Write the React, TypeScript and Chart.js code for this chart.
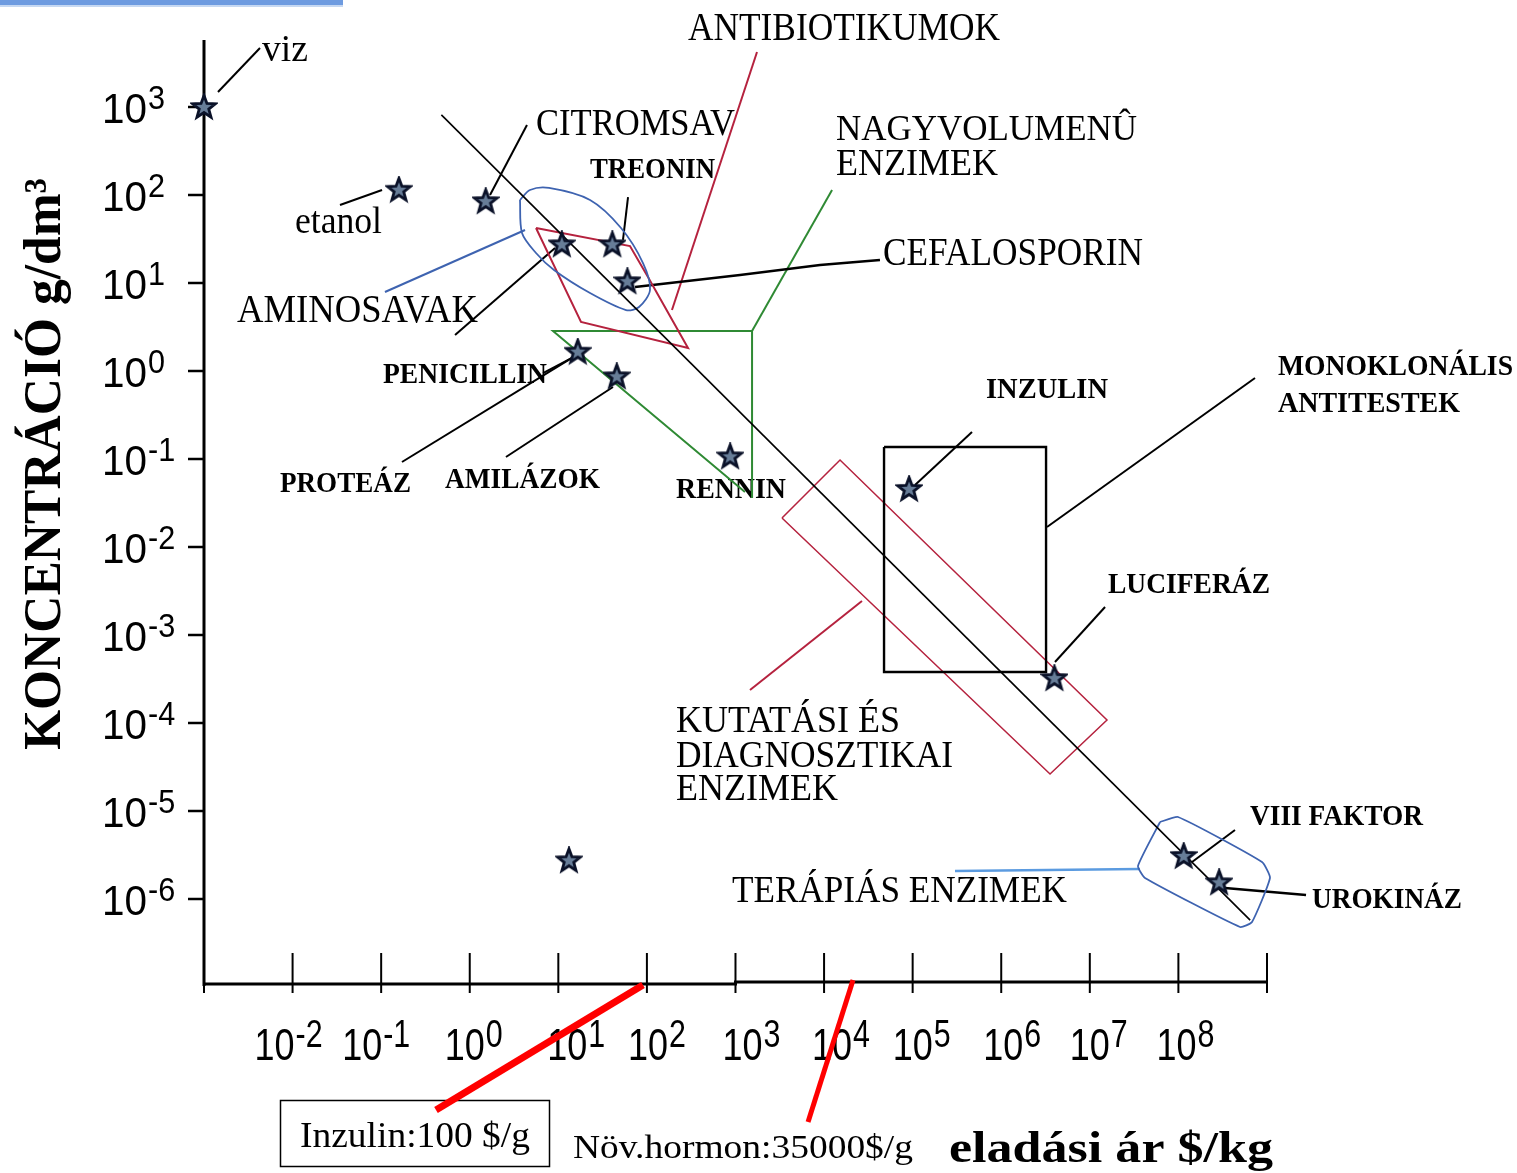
import React, { useEffect, useRef } from "react";
import { Chart, registerables } from "chart.js";

Chart.register(...registerables);

// ---------- DATA (all values are log10 exponents) ----------
// axis ticks
const priceTickExps = [-3, -2, -1, 0, 1, 2, 3, 4, 5, 6, 7, 8, 9];
const priceLabelExps = [-2, -1, 0, 1, 2, 3, 4, 5, 6, 7, 8];
const concTickExps = [3, 2, 1, 0, -1, -2, -3, -4, -5, -6];

// products (stars): log10 price ($/kg) and log10 concentration (g/dm3)
const productNames = ["viz", "etanol", "citromsav", "aminosav", "treonin", "cefalosporin", "penicillin", "amilázok", "rennin", "inzulin", "luciferáz", "VIII faktor", "urokináz", "?"];
const productPrice = [-3, -0.8, 0.18, 1.04, 1.61, 1.78, 1.22, 1.66, 2.94, 4.96, 6.6, 8.06, 8.46, 1.12];
const productConc = [3, 2.06, 1.93, 1.44, 1.44, 1.02, 0.22, -0.06, -0.97, -1.34, -3.49, -5.51, -5.81, -5.56];

// trend line
const trendPrice = [-0.32, 8.81];
const trendConc = [2.91, -6.24];

// group outlines
const aminoGroupPrice = [0.567, 0.68, 0.895, 1.358, 1.708, 1.956, 2.035, 1.911, 1.764, 1.358, 0.951, 0.748, 0.59, 0.567];
const aminoGroupConc = [1.943, 2.057, 2.08, 1.943, 1.625, 1.227, 0.92, 0.727, 0.693, 0.886, 1.148, 1.341, 1.568, 1.943];
const antibioticGroupPrice = [0.748, 1.809, 2.012, 2.464, 1.256, 0.748];
const antibioticGroupConc = [1.625, 1.42, 1.068, 0.261, 0.557, 1.625];
const bulkEnzymePrice = [3.107, 0.94, 3.187, 3.187];
const bulkEnzymeConc = [-1.375, 0.455, 0.455, -1.443];
const monoclonalPrice = [4.677, 6.506, 6.506, 4.677, 4.677];
const monoclonalConc = [-0.864, -0.864, -3.42, -3.42, -0.864];
const researchPrice = [3.525, 4.18, 7.194, 6.551, 3.525];
const researchConc = [-1.67, -1.011, -3.966, -4.58, -1.67];
const therapeuticPrice = [7.793, 7.996, 8.944, 9.034, 8.831, 8.696, 7.623, 7.544, 7.793];
const therapeuticConc = [-5.125, -5.068, -5.58, -5.761, -6.261, -6.318, -5.761, -5.625, -5.125];

// black leader lines
const leadVizPrice = [-2.842, -2.368];
const leadVizConc = [3.17, 3.67];
const leadEtanolPrice = [-1.465, -0.99];
const leadEtanolConc = [1.886, 2.057];
const leadCitromPrice = [0.229, 0.646];
const leadCitromConc = [2.0, 2.795];
const leadTreoninPrice = [1.787, 1.73];
const leadTreoninConc = [1.977, 1.489];
const leadCefaloPrice = [1.866, 3.051, 3.954, 4.631];
const leadCefaloConc = [0.955, 1.091, 1.205, 1.261];
const leadAminoPrice = [-0.166, 0.963];
const leadAminoConc = [0.409, 1.398];
const leadPenicPrice = [0.827, 1.154];
const leadPenicConc = [-0.023, 0.148];
const leadProteazPrice = [-0.765, 1.154];
const leadProteazConc = [-1.034, 0.148];
const leadAmilazPrice = [0.409, 1.617];
const leadAmilazConc = [-0.977, -0.182];
const leadInzulinPrice = [5.027, 5.67];
const leadInzulinConc = [-1.295, -0.693];
const leadMonoPrice = [6.517, 8.865];
const leadMonoConc = [-1.773, -0.08];
const leadLuciPrice = [6.607, 7.172];
const leadLuciConc = [-3.307, -2.682];
const leadF8Price = [8.154, 8.639];
const leadF8Conc = [-5.58, -5.216];
const leadUroPrice = [8.526, 9.441];
const leadUroConc = [-5.875, -5.955];

// coloured leader lines
const leadAminoGroupPrice = [-0.957, 0.624];
const leadAminoGroupConc = [0.898, 1.602];
const leadAntibioticPrice = [3.243, 2.283];
const leadAntibioticConc = [3.625, 0.693];
const leadBulkPrice = [3.187, 4.09];
const leadBulkConc = [0.455, 2.057];
const leadResearchPrice = [3.164, 4.428];
const leadResearchConc = [-3.625, -2.614];
const leadTherapPrice = [5.478, 7.567];
const leadTherapConc = [-5.682, -5.659];

// price call-outs
const insulinCallPrice = [1.956, -0.381];
const insulinCallConc = [-6.977, -8.398];
const hormoneCallPrice = [4.327, 3.819];
const hormoneCallConc = [-6.92, -8.534];

// ---------- LAYOUT / STYLE ----------
const W = 1517;
const H = 1173;
const SERIF = '"Liberation Serif", "Times New Roman", serif';
const SANS = '"Liberation Sans", Arial, sans-serif';
const X_LABEL_SHIFT = [-38, -39, -25, -11, -19, -13, -12, -20, -18, -20, -22];

type Lbl = [string, number, number, number, number];
// text, left x, baseline y, cap height, width
const LABELS: Lbl[] = [
  ["CITROMSAV", 536, 135, 25, 199],
  ["TREONIN", 590, 178, 19, 125],
  ["ANTIBIOTIKUMOK", 688, 40, 27, 312],
  ["NAGYVOLUMENÛ", 836, 140, 23, 301],
  ["ENZIMEK", 836, 175, 25, 162],
  ["CEFALOSPORIN", 883, 265, 27, 260],
  ["AMINOSAVAK", 237, 322, 27, 241],
  ["PENICILLIN", 383, 383, 20, 164],
  ["PROTEÁZ", 280, 492, 20, 131],
  ["AMILÁZOK", 445, 488, 20, 155],
  ["RENNIN", 676, 498, 20, 110],
  ["INZULIN", 986, 398, 20, 122],
  ["MONOKLONÁLIS", 1278, 375, 20, 235],
  ["ANTITESTEK", 1278, 412, 19, 182],
  ["LUCIFERÁZ", 1108, 593, 20, 162],
  ["KUTATÁSI ÉS", 676, 732, 25, 224],
  ["DIAGNOSZTIKAI", 676, 767, 25, 277],
  ["ENZIMEK", 676, 800, 25, 162],
  ["TERÁPIÁS ENZIMEK", 732, 902, 25, 335],
  ["VIII FAKTOR", 1250, 825, 20, 173],
  ["UROKINÁZ", 1312, 908, 20, 150],
];

const pts = (xs: number[], ys: number[]) => xs.map((x, i) => ({ x, y: ys[i] }));

function drawText(
  ctx: CanvasRenderingContext2D,
  text: string,
  x: number,
  y: number,
  size: number,
  width: number | null,
  family = SERIF,
  bold = false
) {
  ctx.save();
  ctx.font = `${bold ? "bold " : ""}${size}px ${family}`;
  ctx.textAlign = "left";
  ctx.textBaseline = "alphabetic";
  ctx.fillStyle = "#000";
  const w = ctx.measureText(text).width;
  ctx.translate(x, y);
  if (width) ctx.scale(width / w, 1);
  ctx.fillText(text, 0, 0);
  ctx.restore();
  return width ?? w;
}

function makeStar(): HTMLCanvasElement {
  const c = document.createElement("canvas");
  c.width = 28;
  c.height = 28;
  const g = c.getContext("2d")!;
  const cx = 14,
    cy = 14.5,
    R = 12,
    r = 5;
  g.beginPath();
  for (let i = 0; i < 10; i++) {
    const a = -Math.PI / 2 + (i * Math.PI) / 5;
    const rad = i % 2 === 0 ? R : r;
    const px = cx + rad * Math.cos(a);
    const py = cy + rad * Math.sin(a);
    if (i === 0) g.moveTo(px, py);
    else g.lineTo(px, py);
  }
  g.closePath();
  g.fillStyle = "#677d98";
  g.fill();
  g.lineWidth = 2.8;
  g.strokeStyle = "#0a1128";
  g.lineJoin = "miter";
  g.stroke();
  return c;
}

const decorPlugin = {
  id: "decor",
  beforeDatasetsDraw(chart: any) {
    const ctx: CanvasRenderingContext2D = chart.ctx;
    const xs = chart.scales.x;
    const ys = chart.scales.y;
    const xp = (v: number) => xs.getPixelForValue(v);
    const yp = (v: number) => ys.getPixelForValue(v);

    ctx.save();
    // top bar
    ctx.fillStyle = "#6e9be0";
    ctx.fillRect(0, 0, 343, 5);
    ctx.fillStyle = "#c6d8f2";
    ctx.fillRect(0, 5, 343, 2);

    ctx.strokeStyle = "#000";
    ctx.lineCap = "butt";

    // y axis
    const ax = xp(-3);
    const yBase = yp(-7);
    ctx.lineWidth = 3;
    ctx.beginPath();
    ctx.moveTo(ax, yp(3.76));
    ctx.lineTo(ax, yBase - 1);
    ctx.stroke();
    ctx.lineWidth = 2.5;
    concTickExps.forEach((e) => {
      const y = yp(e);
      ctx.beginPath();
      ctx.moveTo(ax - 16, y);
      ctx.lineTo(ax, y);
      ctx.stroke();
    });

    // x axis (with small step at 10^3)
    ctx.lineWidth = 3;
    ctx.beginPath();
    ctx.moveTo(ax, yBase - 3);
    ctx.lineTo(xp(3), yBase - 3);
    ctx.lineTo(xp(3), yBase - 5);
    ctx.lineTo(xp(9), yBase - 5);
    ctx.stroke();
    ctx.lineWidth = 2;
    priceTickExps.forEach((e) => {
      const x = xp(e);
      ctx.beginPath();
      ctx.moveTo(x, yBase - 34);
      ctx.lineTo(x, yBase + 6);
      ctx.stroke();
    });

    // y tick labels
    concTickExps.forEach((e) => {
      const y = yp(e);
      const w = drawText(ctx, "10", 102, y + 16, 42, 45, SANS);
      const sup = e < 0 ? "-" + Math.abs(e) : String(e);
      ctx.save();
      ctx.font = `34px ${SANS}`;
      const sw = ctx.measureText(sup).width * 0.9;
      ctx.restore();
      drawText(ctx, sup, 102 + w + 1, y + 2, 34, sw, SANS);
    });

    // x tick labels
    priceLabelExps.forEach((e, i) => {
      const x = xp(e) + X_LABEL_SHIFT[i];
      const w = drawText(ctx, "10", x, 1060, 44, 40, SANS);
      const sup = e < 0 ? "-" + Math.abs(e) : String(e);
      ctx.save();
      ctx.font = `38px ${SANS}`;
      const sw = ctx.measureText(sup).width * 0.8;
      ctx.restore();
      drawText(ctx, sup, x + w + 1, 1047, 38, sw, SANS);
    });

    // annotation texts
    drawText(ctx, "viz", 262, 61, 38, 46);
    drawText(ctx, "etanol", 295, 233, 38, 87);
    LABELS.forEach(([t, x, y, cap, w]) => {
      drawText(ctx, t, x, y, Math.round(cap / 0.66), w, SERIF, cap <= 20);
    });

    // y title (rotated)
    ctx.save();
    ctx.translate(60, 750);
    ctx.rotate(-Math.PI / 2);
    drawText(ctx, "KONCENTRÁCIÓ g/dm³", 0, 0, 52, 572, SERIF, true);
    ctx.restore();

    // x title
    drawText(ctx, "eladási ár $/kg", 949, 1162, 44, 324, SERIF, true);

    // bottom notes
    ctx.lineWidth = 1.5;
    ctx.strokeStyle = "#000";
    ctx.strokeRect(280.5, 1100.5, 269, 66);
    drawText(ctx, "Inzulin:100 $/g", 300, 1147, 36, 230);
    drawText(ctx, "Növ.hormon:35000$/g", 573, 1158, 34, 340);

    ctx.restore();
  },
};

export default function App() {
  const ref = useRef<HTMLCanvasElement | null>(null);

  useEffect(() => {
    if (!ref.current) return;
    const star = makeStar();
    const line = (xs: number[], ys: number[], color: string, width: number, tension = 0) => ({
      type: "line" as const,
      data: pts(xs, ys),
      showLine: true,
      borderColor: color,
      borderWidth: width,
      pointRadius: 0,
      tension,
      fill: false,
      clip: false as any,
      order: 2,
    });

    const BLACK = "#000000";
    const BLUE = "#3e63b0";
    const RED = "#b5223e";
    const GREEN = "#2f8a34";

    const chart = new Chart(ref.current, {
      type: "scatter",
      data: {
        datasets: [
          {
            label: "termékek",
            data: pts(productPrice, productConc),
            pointStyle: star as any,
            pointRadius: 12,
            showLine: false,
            clip: false as any,
            order: 0,
          } as any,
          line(trendPrice, trendConc, BLACK, 1.6),
          line(aminoGroupPrice, aminoGroupConc, BLUE, 1.8, 0.3),
          line(antibioticGroupPrice, antibioticGroupConc, RED, 2),
          line(bulkEnzymePrice, bulkEnzymeConc, GREEN, 2),
          line(monoclonalPrice, monoclonalConc, BLACK, 2.4),
          line(researchPrice, researchConc, RED, 1.5),
          line(therapeuticPrice, therapeuticConc, BLUE, 1.8, 0.15),
          line(leadVizPrice, leadVizConc, BLACK, 2),
          line(leadEtanolPrice, leadEtanolConc, BLACK, 2),
          line(leadCitromPrice, leadCitromConc, BLACK, 2),
          line(leadTreoninPrice, leadTreoninConc, BLACK, 2),
          line(leadCefaloPrice, leadCefaloConc, BLACK, 2.6),
          line(leadAminoPrice, leadAminoConc, BLACK, 2),
          line(leadPenicPrice, leadPenicConc, BLACK, 2),
          line(leadProteazPrice, leadProteazConc, BLACK, 2),
          line(leadAmilazPrice, leadAmilazConc, BLACK, 2),
          line(leadInzulinPrice, leadInzulinConc, BLACK, 2),
          line(leadMonoPrice, leadMonoConc, BLACK, 2),
          line(leadLuciPrice, leadLuciConc, BLACK, 2),
          line(leadF8Price, leadF8Conc, BLACK, 2),
          line(leadUroPrice, leadUroConc, BLACK, 2.4),
          line(leadAminoGroupPrice, leadAminoGroupConc, BLUE, 2),
          line(leadAntibioticPrice, leadAntibioticConc, RED, 2),
          line(leadBulkPrice, leadBulkConc, GREEN, 2),
          line(leadResearchPrice, leadResearchConc, RED, 2),
          line(leadTherapPrice, leadTherapConc, "#5b9be0", 2.6),
          line(insulinCallPrice, insulinCallConc, "#ff0000", 7),
          line(hormoneCallPrice, hormoneCallConc, "#ff0000", 5),
        ] as any,
      },
      options: {
        animation: false,
        responsive: false,
        devicePixelRatio: 1,
        events: [],
        layout: { autoPadding: false, padding: { left: 204, right: 2, top: 36.6, bottom: 1.2 } },
        scales: {
          x: { type: "linear", min: -3, max: 11.8, display: false },
          y: { type: "linear", min: -9.1, max: 3.8, display: false },
        },
        plugins: {
          legend: { display: false },
          tooltip: { enabled: false },
        },
      },
      plugins: [decorPlugin],
    });
    return () => chart.destroy();
  }, []);

  return (
    <div style={{ position: "absolute", left: 0, top: 0, width: W, height: H, background: "#fff" }}>
      <canvas ref={ref} width={W} height={H} style={{ display: "block", width: W, height: H }} />
    </div>
  );
}
